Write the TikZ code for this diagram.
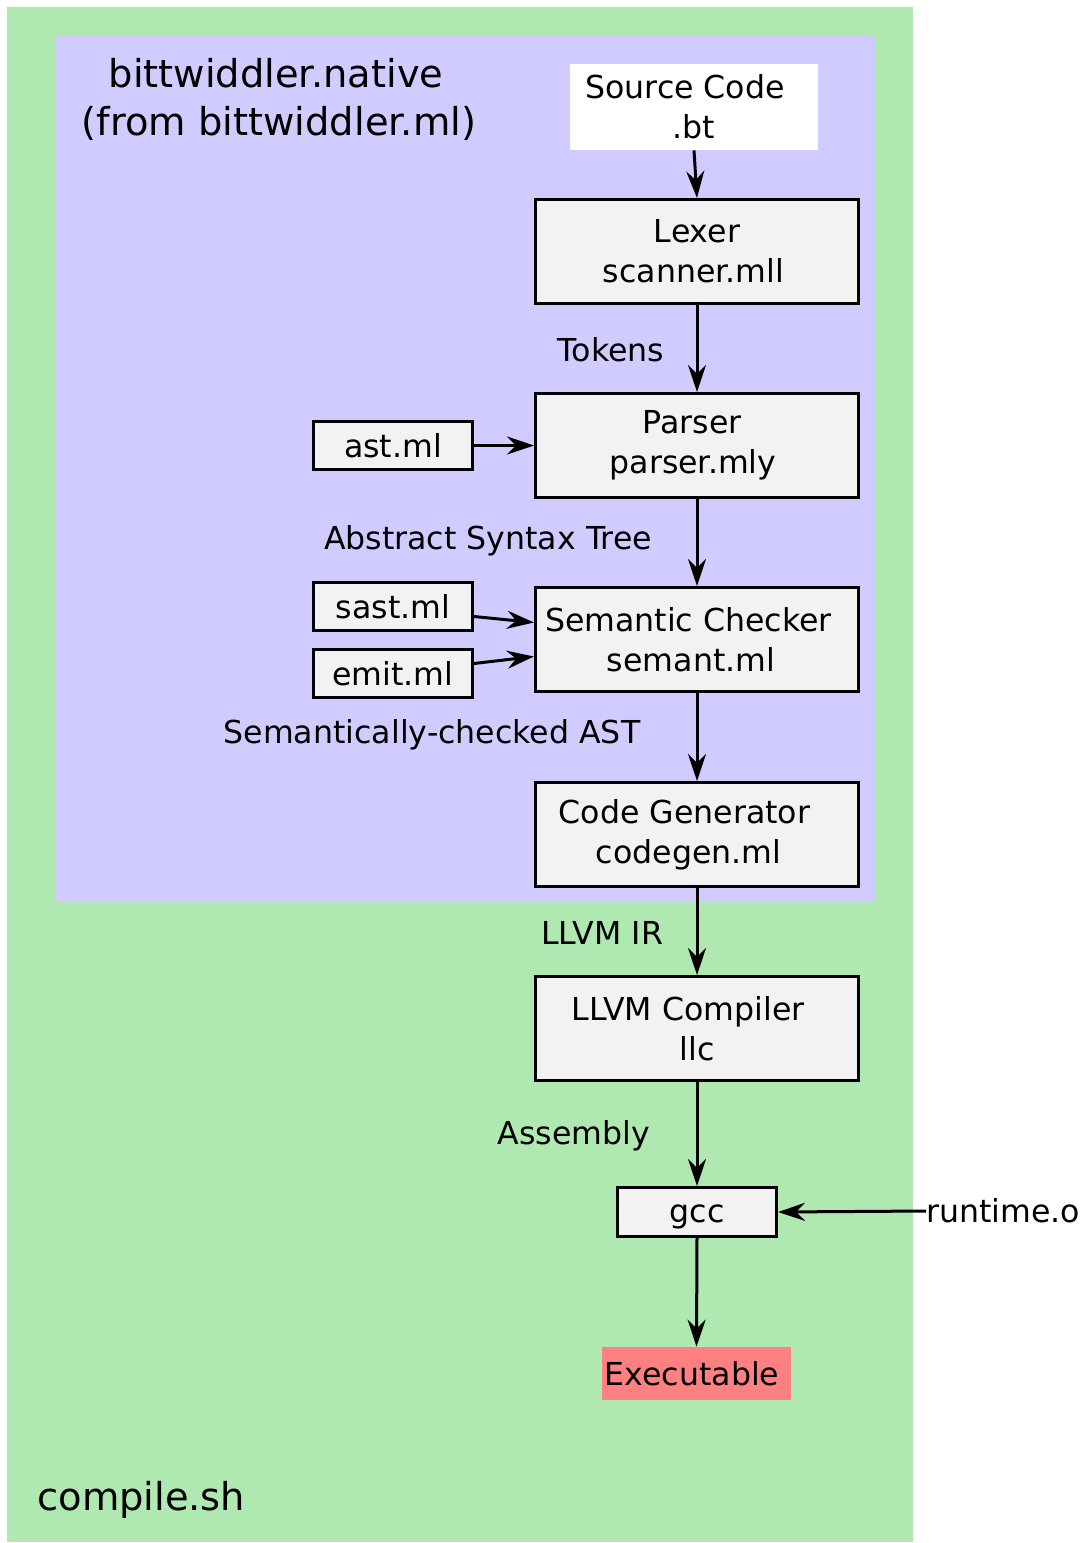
\documentclass[tikz,border=0pt]{standalone}
\usepackage{fontspec}
\setmainfont{DejaVu Sans}
\usetikzlibrary{arrows.meta}
\definecolor{outergreen}{RGB}{175,232,176}
\definecolor{innerpurple}{RGB}{208,204,255}
\definecolor{boxgray}{RGB}{242,242,242}
\definecolor{exered}{RGB}{255,128,128}
\newcommand{\trl}[1]{\hspace*{#1}}
\tikzset{
  big/.style={minimum width=161.5pt, minimum height=52pt, draw, line width=1.5pt, fill=boxgray, align=center, inner sep=0pt, font=\fontsize{15.8}{20}\selectfont},
  small/.style={minimum width=79.5pt, minimum height=24pt, draw, line width=1.5pt, fill=boxgray, align=center, inner sep=0pt, font=\fontsize{15.8}{20}\selectfont},
  lbl/.style={inner sep=0pt, align=center, font=\fontsize{15.8}{20}\selectfont},
  cl/.style={inner sep=0pt, align=center, font=\fontsize{19.2}{24}\selectfont},
  conn/.style={line width=1.5pt, -{Stealth[length=13.5pt, width=9pt, inset=4.5pt]}}
}
\begin{document}
\begin{tikzpicture}[x=0.5pt,y=-0.5pt]
\useasboundingbox (0,0) rectangle (1088,1543);
\fill[outergreen] (7,7) rectangle (913,1542);
\fill[innerpurple] (55,36) rectangle (876,901);
\node[cl] (title) at (279,99) {bittwiddler.native\trl{3pt}\\(from bittwiddler.ml)};
\node[cl, anchor=west] (csh) at (37,1500) {compile.sh};

\node[lbl, fill=white, minimum width=124pt, minimum height=43pt] (src) at (694,107) {Source Code\trl{9pt}\\.bt};
\node[big] (lexer) at (697,251.5) {Lexer\\scanner.mll\trl{3.5pt}};
\node[big] (parser) at (697,445.5) {Parser\trl{5pt}\\parser.mly\trl{4pt}};
\node[big] (sem) at (697,639.5) {Semantic Checker\trl{8.5pt}\\semant.ml\trl{6pt}};
\node[big] (cg) at (697,834.5) {Code Generator\trl{12.5pt}\\codegen.ml\trl{8.5pt}};
\node[big] (llc) at (697,1028.5) {LLVM Compiler\trl{9pt}\\llc};
\node[small] (ast) at (393,445.5) {ast.ml};
\node[small] (sast) at (393,606.5) {sast.ml};
\node[small] (emit) at (393,673.5) {emit.ml};
\node[small, minimum height=24.5pt, text height=12.5pt, text depth=2.5pt] (gcc) at (697,1212) {gcc};
\node[lbl, fill=exered, minimum width=94.5pt, minimum height=26.5pt] (exe) at (696.5,1373.5) {Executable\trl{4.5pt}};
\node[lbl, anchor=west] (rt) at (926,1211) {runtime.o};

\node[lbl] (ltok) at (611,350) {Tokens};
\node[lbl] (last) at (488,541) {Abstract Syntax Tree};
\node[lbl] (lsast) at (432,735) {Semantically-checked AST};
\node[lbl] (lir) at (602,933) {LLVM IR};
\node[lbl] (lasm) at (574,1136) {Assembly};

\draw[conn] (src.south) -- (lexer.north);
\draw[conn] (lexer.south) -- (parser.north);
\draw[conn] (parser.south) -- (sem.north);
\draw[conn] (sem.south) -- (cg.north);
\draw[conn] (cg.south) -- (llc.north);
\draw[conn] (llc.south) -- (gcc.north);
\draw[conn] (gcc.south) -- (exe.north);
\draw[conn] (ast.east) -- (parser.west);
\draw[conn] ([yshift=-5pt]sast.east) -- ([yshift=8.5pt]sem.west);
\draw[conn] ([yshift=5pt]emit.east) -- ([yshift=-8.5pt]sem.west);
\draw[conn] (rt.west) -- (gcc.east);
\end{tikzpicture}
\end{document}
